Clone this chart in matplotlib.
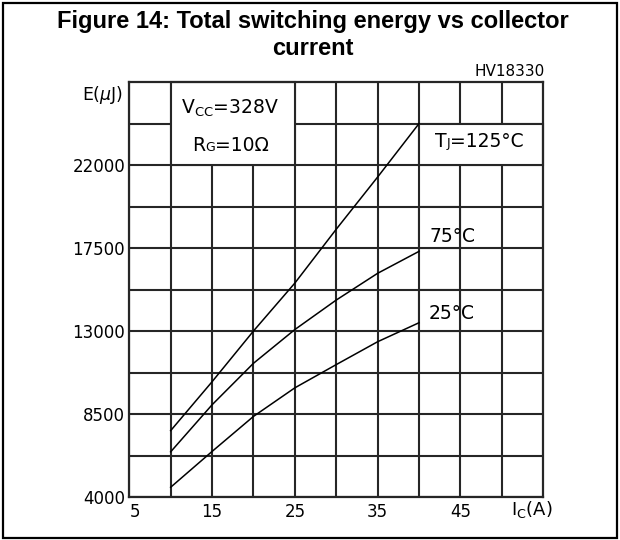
import matplotlib
matplotlib.use("Agg")

import matplotlib.pyplot as plt
from matplotlib.patches import Rectangle
from matplotlib.offsetbox import TextArea, HPacker, AnnotationBbox

# collector current (A) and total switching energy (uJ) per junction temperature
ic = [10, 15, 20, 25, 30, 35, 40]
e_125 = [7600, 10250, 13000, 15600, 18520, 21350, 24250]
e_75 = [6450, 9000, 11250, 13080, 14680, 16130, 17320]
e_25 = [4530, 6470, 8370, 9920, 11180, 12420, 13450]

x_labels = ["5", "15", "25", "35", "45"]
y_labels = ["4000", "8500", "13000", "17500", "22000"]

GRID = "#262626"


def mixed_label(ax, parts, xy):
    # small letters sitting on the baseline (R G, T J)
    boxes = [TextArea(s, textprops=dict(fontsize=fs, color="black", family="DejaVu Sans"))
             for s, fs in parts]
    pack = HPacker(children=boxes, align="baseline", pad=0, sep=0)
    ab = AnnotationBbox(pack, xy, xycoords="data", frameon=False,
                        box_alignment=(0.5, 0.5), pad=0, zorder=5)
    ax.add_artist(ab)


fig = plt.figure(figsize=(6.2, 5.4), dpi=100)
ax = fig.add_axes([0.2085, 0.0796, 0.6677, 0.7685])

ax.set_xlim(5, 55)
ax.set_ylim(4000, 26500)

ax.set_xticks([5, 15, 25, 35, 45])
ax.set_xticklabels(x_labels)
ax.set_xticks([10, 20, 30, 40, 50], minor=True)
ax.set_yticks([4000, 8500, 13000, 17500, 22000])
ax.set_yticklabels(y_labels)
ax.set_yticks([6250, 10750, 15250, 19750, 24250], minor=True)
ax.tick_params(which="both", length=0)
ax.tick_params(axis="x", pad=4, labelsize=12)
ax.tick_params(axis="y", pad=3, labelsize=12)
ax.get_xticklabels()[0].set_horizontalalignment("left")

ax.set_axisbelow(True)
ax.grid(True, which="both", color=GRID, lw=1.5)
for sp in ax.spines.values():
    sp.set_color(GRID)
    sp.set_linewidth(1.6)

# white label areas that break the grid
for x0, y0, w, h in [(10, 22000, 15, 4500), (40, 22000, 15, 2250),
                     (40, 17500, 5, 2250), (40, 13000, 5, 2250)]:
    ax.add_patch(Rectangle((x0, y0), w, h, facecolor="white", edgecolor=GRID,
                           lw=1.5, zorder=1, clip_on=False))

for e in [e_125, e_75, e_25]:
    ax.plot(ic, e, color="black", lw=1.1, zorder=3)

ax.text(17.2, 25060, r"V$_{\mathregular{CC}}$=328V", fontsize=13.5, ha="center", va="center", zorder=5)
mixed_label(ax, [("R", 13.5), ("G", 9), ("=10Ω", 13.5)], (17.2, 23060))
mixed_label(ax, [("T", 13.5), ("J", 9), ("=125°C", 13.5)], (47.3, 23260))
ax.text(44.1, 18150, "75°C", fontsize=13.5, ha="center", va="center", zorder=5)
ax.text(43.9, 13960, "25°C", fontsize=13.5, ha="center", va="center", zorder=5)

fig.text(123 / 620, 1 - 95 / 540, r"E($\mu$J)", fontsize=12.5, ha="right", va="center")
fig.text(532 / 620, 1 - 510 / 540, r"I$_{\mathregular{C}}$(A)", fontsize=13, ha="center", va="center")
fig.text(545 / 620, 1 - 72 / 540, "HV18330", fontsize=11, ha="right", va="center")

fig.text(0.505, 1 - 28 / 540, "Figure 14: Total switching energy vs collector",
         fontsize=17, fontweight="bold", family="Liberation Sans", ha="center", va="baseline")
fig.text(0.505, 1 - 55 / 540, "current",
         fontsize=17, fontweight="bold", family="Liberation Sans", ha="center", va="baseline")

fig.patches.append(Rectangle((3 / 620, 2 / 540), 614 / 620, 535 / 540, transform=fig.transFigure,
                             fill=False, edgecolor="black", lw=1.6))

fig.savefig("out.png", dpi=100)
